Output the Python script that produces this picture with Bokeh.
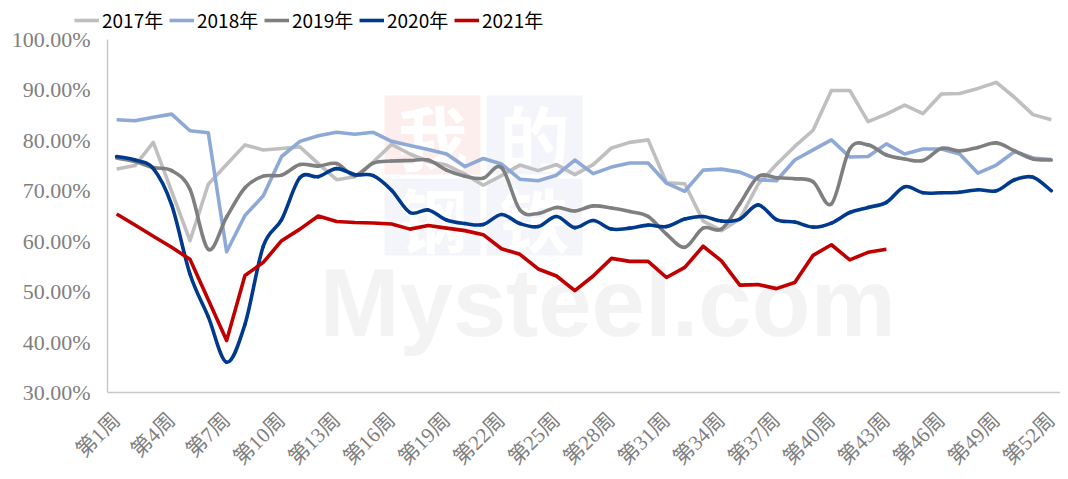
import math
from bokeh.plotting import figure
from bokeh.models import (Range1d, FixedTicker, PrintfTickFormatter, Legend, LegendItem,
                          Label, BoxAnnotation)
from bokeh.embed import file_html
from bokeh.resources import INLINE

# ---------------- data ----------------
weeks = list(range(1, 53))
tick_weeks = [1, 4, 7, 10, 13, 16, 19, 22, 25, 28, 31, 34, 37, 40, 43, 46, 49, 52]
tick_labels = ["第1周", "第4周", "第7周", "第10周", "第13周", "第16周", "第19周", "第22周",
               "第25周", "第28周", "第31周", "第34周", "第37周", "第40周", "第43周", "第46周",
               "第49周", "第52周"]
y_ticks = [30, 40, 50, 60, 70, 80, 90, 100]
series_names = ["2017年", "2018年", "2019年", "2020年", "2021年"]

y2017 = [74.3, 75.0, 79.6, 69.9, 60.1, 71.3, 75.2, 79.1, 78.1, 78.4, 78.7, 75.4, 72.2,
         72.8, 75.7, 79.2, 77.3, 75.8, 75.1, 73.3, 71.1, 73.0, 75.1, 74.0, 75.2, 73.2,
         75.2, 78.5, 79.6, 80.1, 71.6, 71.4, 64.0, 62.1, 64.4, 71.3, 75.2, 78.8, 82.0,
         89.9, 89.9, 83.7, 85.2, 87.0, 85.3, 89.2, 89.3, 90.3, 91.5, 88.5, 85.1, 84.1]
y2018 = [84.1, 83.9, 84.6, 85.2, 81.9, 81.5, 57.9, 65.1, 69.0, 76.8, 79.8, 80.9, 81.6,
         81.2, 81.6, 79.8, 79.0, 78.2, 77.3, 74.8, 76.4, 75.3, 72.3, 72.0, 73.1, 76.1,
         73.4, 74.7, 75.5, 75.5, 71.5, 69.9, 74.1, 74.3, 73.7, 72.2, 72.0, 76.1, 78.1,
         80.1, 76.7, 76.8, 79.3, 77.3, 78.3, 78.3, 77.3, 73.5, 75.1, 77.8, 76.5, 76.2]
y2019 = [76.5, 75.8, 74.6, 74.0, 70.3, 58.4, 64.8, 70.6, 72.9, 73.1, 75.2, 74.9, 75.4,
         73.0, 75.5, 75.9, 76.0, 76.1, 74.1, 72.9, 72.5, 74.6, 66.2, 65.5, 66.7, 66.0,
         67.0, 66.6, 65.9, 64.9, 61.4, 58.8, 62.6, 62.4, 67.4, 72.8, 72.6, 72.4, 71.8,
         67.4, 78.3, 79.1, 77.1, 76.3, 76.0, 78.4, 77.9, 78.6, 79.5, 77.9, 76.3, 76.1]
y2020 = [76.8, 76.1, 74.4, 67.2, 53.5, 45.0, 36.0, 43.5, 59.0, 64.3, 72.6, 72.8, 74.4,
         73.2, 73.0, 70.1, 65.7, 66.2, 64.2, 63.5, 63.3, 65.3, 63.5, 62.9, 64.9, 62.7,
         64.1, 62.4, 62.6, 63.2, 62.9, 64.4, 64.9, 64.0, 64.4, 67.2, 64.3, 63.8, 62.8,
         63.6, 65.7, 66.7, 67.7, 70.8, 69.6, 69.6, 69.7, 70.2, 70.0, 72.2, 72.7, 70.0]
y2021 = [65.4, 63.2, 61.0, 58.8, 56.4, 48.4, 40.3, 53.2, 55.8, 60.1, 62.4, 65.0, 63.9,
         63.7, 63.6, 63.4, 62.4, 63.1, 62.6, 62.1, 61.3, 58.5, 57.4, 54.5, 53.1, 50.2,
         53.1, 56.6, 56.0, 56.0, 52.8, 54.8, 59.0, 56.1, 51.3, 51.4, 50.6, 51.8, 57.2,
         59.3, 56.3, 57.8, 58.4]

colors = ["#BFBFBF", "#8EA9D6", "#7F7F7F", "#003A8C", "#C00000"]

# ---------------- layout (frame fills the whole canvas) ----------------
W, H = 1060, 471
plot_left, plot_right = 107, 1060      # plotting area inside the canvas (px)
plot_top, plot_bottom = 39, 392
xmin, xmax = 0.5, 52.5
ymin, ymax = 30, 100
sx = (plot_right - plot_left) / (xmax - xmin)
sy = (plot_bottom - plot_top) / (ymax - ymin)
x_range = Range1d(xmin - plot_left / sx, xmax + (W - plot_right) / sx)
y_range = Range1d(ymin - (H - plot_bottom) / sy, ymax + plot_top / sy)

p = figure(width=W, height=H, output_backend="svg", toolbar_location=None,
           x_range=x_range, y_range=y_range,
           min_border_left=0, min_border_right=0, min_border_top=0, min_border_bottom=0)
p.outline_line_color = None
p.xgrid.visible = False
p.ygrid.visible = False
p.background_fill_color = "white"
p.border_fill_color = "white"

# watermark (faint), screen units relative to the frame's bottom-left
ox, oy = plot_left, H - plot_bottom
for (l, r, b, t, c) in [(277, 373, 218, 297, "#FDEEEE"), (379, 475, 218, 297, "#F3F5FA"),
                        (277, 373, 137, 214, "#F3F5FA"), (379, 475, 137, 214, "#F3F5FA")]:
    p.add_layout(BoxAnnotation(left=l + ox, right=r + ox, bottom=b + oy, top=t + oy,
                               left_units="screen", right_units="screen",
                               bottom_units="screen", top_units="screen",
                               fill_color=c, fill_alpha=1, line_color=None,
                               level="underlay"))
for (ch, cx, cy) in [("我", 325, 257), ("的", 427, 257), ("钢", 325, 175), ("铁", 427, 175)]:
    p.add_layout(Label(x=cx + ox, y=cy + oy, x_units="screen", y_units="screen", text=ch,
                       text_font="'Noto Sans CJK SC'", text_font_size="70px",
                       text_font_style="bold", text_color="white",
                       text_align="center", text_baseline="middle", level="underlay"))
p.add_layout(Label(x=212 + ox, y=90 + oy, x_units="screen", y_units="screen",
                   text="Mysteel.com",
                   text_font="'Liberation Sans Narrow', 'Liberation Sans', sans-serif",
                   text_font_size="96px", text_font_style="bold", text_color="#F3F3F3",
                   text_align="left", text_baseline="alphabetic", level="underlay"))


def bezier_parts(xs, ys):
    n = len(xs)
    out = dict(x0=[], y0=[], x1=[], y1=[], cx0=[], cy0=[], cx1=[], cy1=[])
    for i in range(n - 1):
        im = max(i - 1, 0)
        ip = min(i + 2, n - 1)
        out["x0"].append(xs[i]); out["y0"].append(ys[i])
        out["x1"].append(xs[i + 1]); out["y1"].append(ys[i + 1])
        out["cx0"].append(xs[i] + (xs[i + 1] - xs[im]) / 6.0)
        out["cy0"].append(ys[i] + (ys[i + 1] - ys[im]) / 6.0)
        out["cx1"].append(xs[i + 1] - (xs[ip] - xs[i]) / 6.0)
        out["cy1"].append(ys[i + 1] - (ys[ip] - ys[i]) / 6.0)
    return out


LW = 3.6
items = []
r17 = p.line(weeks, y2017, line_color=colors[0], line_width=LW, line_join="round")
items.append(LegendItem(label=series_names[0], renderers=[r17]))
r18 = p.line(weeks, y2018, line_color=colors[1], line_width=LW, line_join="round")
items.append(LegendItem(label=series_names[1], renderers=[r18]))
for ys, c, nm in [(y2019, colors[2], series_names[2]), (y2020, colors[3], series_names[3])]:
    p.bezier(line_color=c, line_width=LW, line_cap="round", **bezier_parts(weeks, ys))
    # single-point line: draws nothing itself, only provides the legend swatch
    rl = p.line(x=weeks[:1], y=ys[:1], line_color=c, line_width=LW)
    items.append(LegendItem(label=nm, renderers=[rl]))
r21 = p.line(weeks[:len(y2021)], y2021, line_color=colors[4], line_width=LW,
             line_join="round")
items.append(LegendItem(label=series_names[4], renderers=[r21]))

legend = Legend(items=items, orientation="horizontal", location=(74, H - 13 - 20),
                glyph_width=25, glyph_height=20, label_standoff=3, label_width=62,
                label_height=20, spacing=5, padding=0, margin=0,
                border_line_color=None, background_fill_alpha=0,
                label_text_font="'Liberation Sans Narrow', 'Noto Sans CJK SC', sans-serif",
                label_text_font_size="19px", label_text_color="#000000")
p.add_layout(legend, "center")

# axes, drawn at fixed data positions inside the frame
ax_col = "#C8C8C8"
lab_col = "#7F7F7F"
p.yaxis.fixed_location = xmin
p.yaxis.bounds = (ymin, ymax)
p.yaxis.ticker = FixedTicker(ticks=y_ticks)
p.yaxis.formatter = PrintfTickFormatter(format="%.2f%%")
p.yaxis.axis_line_color = ax_col
p.yaxis.axis_line_width = 1.5
p.yaxis.major_tick_line_color = None
p.yaxis.minor_tick_line_color = None
p.yaxis.major_tick_out = 0
p.yaxis.major_label_standoff = 17
p.yaxis.major_label_text_font = "'Liberation Serif', serif"
p.yaxis.major_label_text_font_size = "22px"
p.yaxis.major_label_text_color = lab_col

p.xaxis.fixed_location = ymin
p.xaxis.bounds = (xmin, xmax)
p.xaxis.ticker = FixedTicker(ticks=tick_weeks)
p.xaxis.major_label_overrides = {w: t for w, t in zip(tick_weeks, tick_labels)}
p.xaxis.major_label_orientation = math.pi / 4
p.xaxis.axis_line_color = ax_col
p.xaxis.axis_line_width = 1.5
p.xaxis.major_tick_line_color = None
p.xaxis.minor_tick_line_color = None
p.xaxis.major_tick_out = 0
p.xaxis.major_label_standoff = 24
p.xaxis.major_label_text_font = "'Liberation Serif', 'Noto Sans CJK SC', serif"
p.xaxis.major_label_text_font_size = "21px"
p.xaxis.major_label_text_color = lab_col

open("out.html", "w").write(file_html(p, INLINE))
